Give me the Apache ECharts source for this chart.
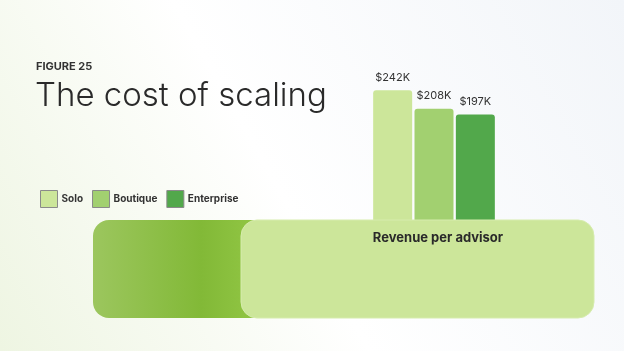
<!DOCTYPE html>
<html>
<head>
<meta charset="utf-8">
<script src="https://cdn.jsdelivr.net/npm/echarts@6/dist/echarts.min.js"></script>
<style>
  html, body { margin: 0; padding: 0; }
  #chart { width: 624px; height: 351px; }
</style>
</head>
<body>
<div id="chart"></div>
<script>
(function () {
    // 数据
    var categories = ['Revenue per advisor'];
    var seriesNames = ['Solo', 'Boutique', 'Enterprise'];
    var seriesValues = [[242], [208], [197]];
    var seriesColors = ['#cce69a', '#a2d070', '#52a84b'];

    var myChart = echarts.init(document.getElementById('chart'));

    var series = seriesNames.map(function (name, i) {
        return {
            name: name,
            type: 'bar',
            data: seriesValues[i],
            barWidth: 39,
            barGap: '6%',
            itemStyle: {
                color: seriesColors[i],
                borderRadius: [3, 3, 0, 0]
            },
            label: {
                show: true,
                position: 'top',
                distance: 7,
                color: '#333',
                fontSize: 11,
                fontFamily: 'Inter',
                formatter: function (p) { return '$' + p.value + 'K'; }
            },
            z: 1
        };
    });

    var option = {
        backgroundColor: new echarts.graphic.LinearGradient(0, 1, 1, 0, [
            { offset: 0, color: '#eef5e2' },
            { offset: 0.45, color: '#ffffff' },
            { offset: 1, color: '#f2f5f9' }
        ]),
        animation: false,
        grid: {
            left: 373,
            width: 122,
            top: 59,
            bottom: 130
        },
        legend: {
            left: 40,
            top: 190,
            padding: 0,
            itemWidth: 17,
            itemHeight: 17,
            itemGap: 9,
            icon: 'rect',
            textStyle: {
                fontFamily: 'Inter',
                fontWeight: 'bold',
                fontSize: 10,
                color: '#333',
                padding: [0, 0, 0, -1]
            },
            itemStyle: { borderColor: '#8a8a8a', borderWidth: 1 },
            data: seriesNames
        },
        xAxis: {
            type: 'category',
            data: categories,
            axisLine: { show: false },
            axisTick: { show: false },
            axisLabel: {
                margin: 11,
                fontFamily: 'Inter',
                fontWeight: 'bold',
                fontSize: 13,
                color: '#2a2a2a',
                padding: [0, 0, 0, 8]
            },
            z: 10
        },
        yAxis: {
            type: 'value',
            min: 0,
            max: 300,
            show: false
        },
        graphic: [
            {
                type: 'text',
                left: 36,
                top: 61,
                style: {
                    text: 'FIGURE 25',
                    fontFamily: 'Inter',
                    fontWeight: 'bold',
                    fontSize: 11,
                    fill: '#333'
                }
            },
            {
                type: 'text',
                left: 35,
                top: 80,
                style: {
                    text: 'The cost of scaling',
                    fontFamily: 'Inter',
                    fontWeight: 300,
                    fontSize: 33,
                    fill: '#2a2a2a'
                }
            },
            {
                type: 'rect',
                shape: { x: 93, y: 220, width: 180, height: 98, r: 16 },
                style: {
                    fill: new echarts.graphic.LinearGradient(0, 0, 1, 0, [
                        { offset: 0, color: '#9cc65e' },
                        { offset: 0.6, color: '#82b937' },
                        { offset: 1, color: '#96ca48' }
                    ])
                },
                z: 5
            },
            {
                type: 'rect',
                shape: { x: 241, y: 220, width: 353, height: 98, r: 16 },
                style: { fill: '#cce69a', stroke: '#d6ecad', lineWidth: 1 },
                z: 6
            }
        ],
        series: series
    };
    myChart.setOption(option);
})();
</script>
</body>
</html>
